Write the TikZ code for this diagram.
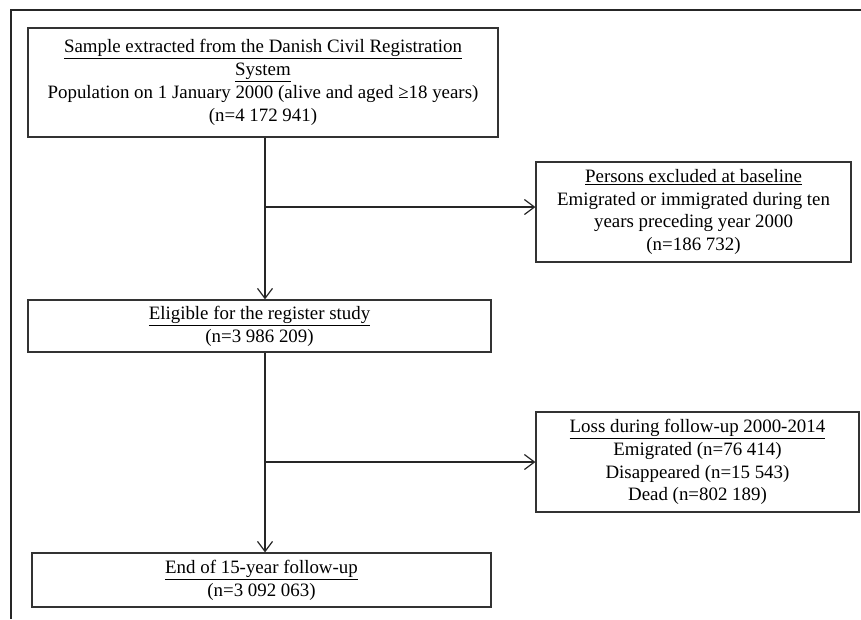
\documentclass[tikz,border=0pt]{standalone}
\usepackage{fontspec}
\setmainfont{Liberation Serif}
\usetikzlibrary{arrows.meta}

\begin{document}
\begin{tikzpicture}[x=1pt, y=-1pt,
        box/.style={draw=black!80, line width=1.2pt, inner sep=0pt, align=center,
            font=\fontsize{18.9}{22.8}\selectfont},
        arr/.style={black!85, line width=1.2pt, -{Straight Barb[length=10pt, width=15pt]}}]
        \useasboundingbox (0,0) rectangle (861,619);
        % open frame round the chart (top and left side only)
        \draw[black!85, line width=1.5pt] (861,10) -- (11,10) -- (11,619);

        \node [box, minimum width=470pt, minimum height=109pt] (sample) at (263,82.5)
            {\underline{Sample extracted from the Danish Civil Registration}\\
             \underline{System}\\
             Population on 1 January 2000 (alive and aged ≥18 years)\\
             (n=4 172 941)};
        \node [box, minimum width=315pt, minimum height=100pt] (excluded) at (693.5,212)
            {\underline{Persons excluded at baseline}\\
             Emigrated or immigrated during ten\\
             years preceding year 2000\\
             (n=186 732)};
        \node [box, minimum width=463pt, minimum height=52pt] (eligible) at (259.5,326)
            {\underline{Eligible for the register study}\\
             (n=3 986 209)};
        \node [box, minimum width=323pt, minimum height=100pt] (loss) at (697.5,462)
            {\underline{Loss during follow-up 2000-2014}\\
             Emigrated (n=76 414)\\
             Disappeared (n=15 543)\\
             Dead (n=802 189)};
        \node [box, minimum width=459pt, minimum height=54pt] (final) at (261.5,580)
            {\underline{End of 15-year follow-up}\\
             (n=3 092 063)};

        % branch points on the main line
        \coordinate (spine) at (265,0);
        \coordinate (split1) at (265,207);
        \coordinate (split2) at (265,462);

        \draw[arr] (sample.south -| spine) -- (eligible.north -| spine);
        \draw[arr] (split1) -- (excluded.west |- split1);
        \draw[arr] (eligible.south -| spine) -- (final.north -| spine);
        \draw[arr] (split2) -- (loss.west |- split2);
    \end{tikzpicture}
\end{document}
